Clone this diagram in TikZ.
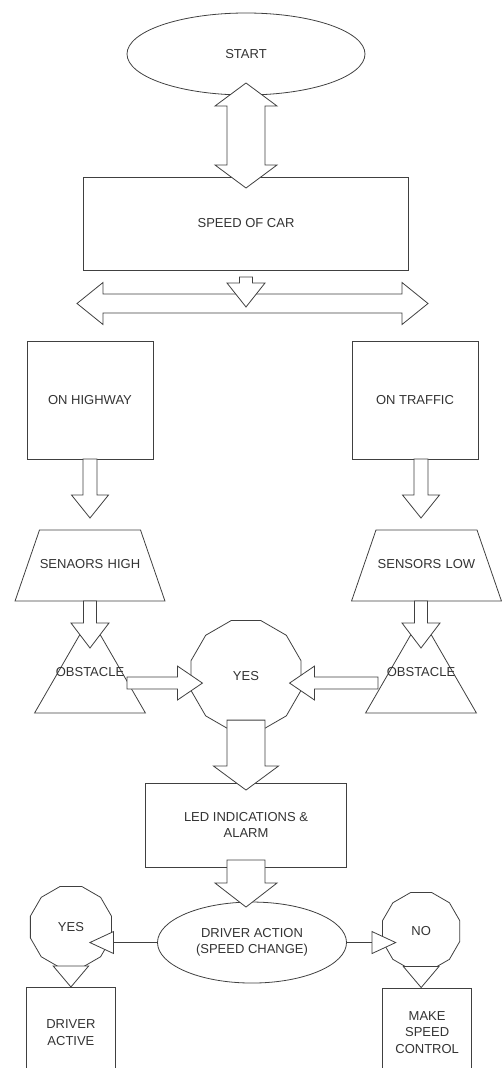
\documentclass[tikz,border=0pt]{standalone}
\usepackage{fontspec}
\setmainfont{Liberation Sans}
\usetikzlibrary{shapes.geometric, arrows.meta, positioning, calc}
\tikzset{
  base/.style = {draw=black!75, line width=0.8pt, align=center, inner sep=2pt, outer sep=0pt, text=black!80, font=\fontsize{13}{16.5}\selectfont},
  terminal/.style = {base, ellipse, inner sep=0pt},
  stepbox/.style = {base, rectangle},
  sensor/.style = {base, trapezium, trapezium left angle=71, trapezium right angle=71, text width=101pt, text height=9pt, text depth=3pt, inner xsep=0pt, inner ysep=29.5pt},
  obstacle/.style = {base, regular polygon, regular polygon sides=3, minimum size=128pt, inner sep=0pt},
  answer/.style = {base, regular polygon, regular polygon sides=12, inner sep=0pt},
  obstext/.style = {text=black!80, font=\fontsize{13}{16.5}\selectfont, yshift=9pt},
  fatline/.style = {draw=black!75, line width=0.8pt, fill=white, line join=miter},
  thinarrow/.style = {draw=black!75, line width=0.8pt, -{Triangle[length=25pt, width=23pt, fill=white]}},
  tipline/.style = {draw=black!75, line width=0.8pt, -{Triangle[length=22pt, width=37pt, fill=white]}}
}

% block arrow: tail, tip, shaft half width, head half width, head length
\newcommand{\fatarrow}[5]{%
  \coordinate (fa-a) at #1;
  \coordinate (fa-b) at #2;
  \coordinate (fa-c) at ($(fa-b)!#5pt!(fa-a)$);
  \draw[fatline] ($(fa-a)!#3pt!90:(fa-b)$) -- ($(fa-c)!#3pt!90:(fa-b)$)
    -- ($(fa-c)!#4pt!90:(fa-b)$) -- (fa-b) -- ($(fa-c)!#4pt!-90:(fa-b)$)
    -- ($(fa-c)!#3pt!-90:(fa-b)$) -- ($(fa-a)!#3pt!-90:(fa-b)$) -- cycle;
}
% block arrow with two heads
\newcommand{\fatdouble}[5]{%
  \coordinate (fd-a) at #1;
  \coordinate (fd-b) at #2;
  \coordinate (fd-c) at ($(fd-a)!#5pt!(fd-b)$);
  \coordinate (fd-d) at ($(fd-b)!#5pt!(fd-a)$);
  \draw[fatline] (fd-a) -- ($(fd-c)!#4pt!90:(fd-b)$) -- ($(fd-c)!#3pt!90:(fd-b)$)
    -- ($(fd-d)!#3pt!90:(fd-b)$) -- ($(fd-d)!#4pt!90:(fd-b)$) -- (fd-b)
    -- ($(fd-d)!#4pt!-90:(fd-b)$) -- ($(fd-d)!#3pt!-90:(fd-b)$)
    -- ($(fd-c)!#3pt!-90:(fd-b)$) -- ($(fd-c)!#4pt!-90:(fd-b)$) -- cycle;
}

\begin{document}
\begin{tikzpicture}[x=1pt, y=1pt]
\useasboundingbox (0,0) rectangle (502,-1068);

% Top chain
\node[terminal, minimum width=238pt, minimum height=82pt] (start) at (246,-54) {START};
\node[stepbox, minimum width=325pt, minimum height=93pt, below=82pt of start] (speed) {SPEED OF CAR};

% Two branches
\node[stepbox, minimum width=126pt, minimum height=118pt, below=71pt of speed, xshift=-156pt] (highway) {ON HIGHWAY};
\node[stepbox, minimum width=126pt, minimum height=118pt, below=71pt of speed, xshift=169pt] (traffic) {ON TRAFFIC};

\node[sensor, below=71pt of highway] (senhigh) {SENAORS HIGH};
\node[sensor, below=71pt of traffic, xshift=11.5pt] (senlow) {SENSORS LOW};

\node[obstacle, below=16pt of senhigh, label={[obstext]center:OBSTACLE}] (obsleft) {};
\node[obstacle, below=16pt of senlow, xshift=-5.5pt, label={[obstext]center:OBSTACLE}] (obsright) {};

% Middle column
\node[answer, minimum size=114pt, below=350.5pt of speed] (yes) {YES};
\node[stepbox, minimum width=201pt, minimum height=84pt, below=52.4pt of yes] (led) {LED INDICATIONS \&\\ALARM};
\node[terminal, minimum width=189pt, minimum height=81pt, below=35pt of led, xshift=6pt] (driver) {DRIVER ACTION\\(SPEED CHANGE)};

% Bottom outcomes
\node[answer, minimum size=84pt, left=46pt of driver, yshift=15.5pt] (yesl) {YES};
\node[answer, minimum size=80pt, right=36pt of driver, yshift=11.5pt] (no) {NO};
\node[stepbox, minimum width=89pt, minimum height=90pt, below=20pt of yesl] (drvact) {DRIVER\\ACTIVE};
\node[stepbox, minimum width=89pt, minimum height=88pt, below=18.5pt of no, xshift=6pt] (makesp) {MAKE\\SPEED\\CONTROL};

% Arrows
\fatdouble{($(start.south)+(0,12)$)}{($(speed.north)+(0,-11)$)}{19}{31}{23}
\coordinate (forkl) at ($(highway.north)+(-13,37.5)$);
\coordinate (forkr) at ($(traffic.north)+(13,37.5)$);
\fatdouble{(forkl)}{(forkr)}{9.5}{21}{26}
\fatarrow{($(speed.south)+(0,-7)$)}{($(speed.south)+(0,-37)$)}{6.5}{19}{24}

\fatarrow{(highway.south)}{($(senhigh.north)+(0,12)$)}{7}{18.5}{23}
\fatarrow{(traffic.south -| obsright.north)}{($(senlow.north -| obsright.north)+(0,12)$)}{7}{18.5}{23}
\fatarrow{(senhigh.south -| obsleft.north)}{($(obsleft.north)+(0,-31)$)}{6.5}{19}{25}
\fatarrow{(senlow.south -| obsright.north)}{($(obsright.north)+(0,-31)$)}{6.5}{19}{25}

\fatarrow{($(obsleft.center)+(37,-2)$)}{($(yes.west)+(11.5,-7.5)$)}{6}{17}{25}
\fatarrow{($(obsright.center)+(-43,-2)$)}{($(yes.east)+(-11.5,-7.5)$)}{6}{17}{25}
\fatarrow{($(yes.south)+(0,10.5)$)}{($(led.north)+(0,-7)$)}{19}{32.5}{24}
\fatarrow{($(led.south)+(0,7)$)}{($(led.south)+(0,-40)$)}{19}{31}{24}

\draw[thinarrow] (driver.west) -- ($(driver.west -| yesl.center)+(18,0)$);
\draw[thinarrow] (driver.east) -- ($(driver.east -| no.center)+(-24.5,0)$);
\draw[tipline] (yesl.south) -- (yesl.south |- drvact.north);
\draw[tipline] (no.south) -- (no.south |- makesp.north);

\end{tikzpicture}
\end{document}
